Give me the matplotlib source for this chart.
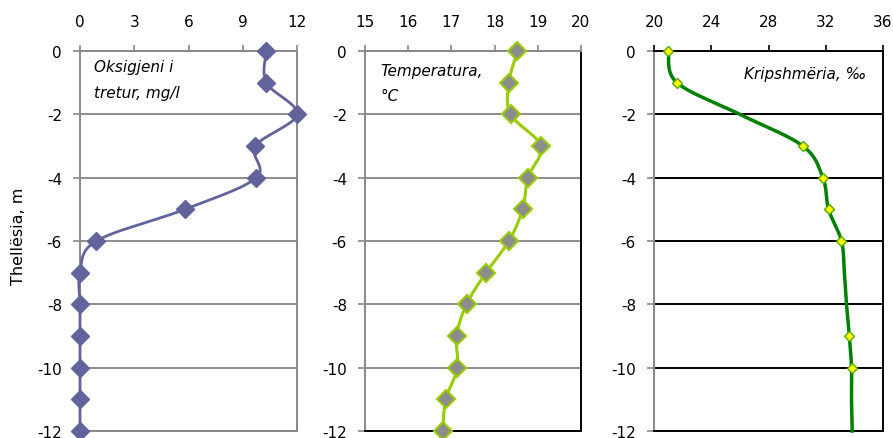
import numpy as np
import matplotlib
matplotlib.use("Agg")
import matplotlib.pyplot as plt

plt.rcParams['font.family'] = ['DejaVu Sans']
plt.rcParams['axes.unicode_minus'] = False

depth = [0, -1, -2, -3, -4, -5, -6, -7, -8, -9, -10, -11, -12]
oxygen = [10.3, 10.3, 12.0, 9.7, 9.75, 5.8, 0.9, 0, 0, 0, 0, 0, 0]
temperature = [18.53, 18.33, 18.37, 19.07, 18.77, 18.65, 18.33, 17.8, 17.35, 17.12, 17.14, 16.87, 16.8]
salinity = [21.0, 21.6, 26.0, 30.4, 31.8, 32.2, 33.1, 33.3, 33.45, 33.65, 33.8, 33.8, 33.85]
salinity_markers = [0, 1, 3, 4, 5, 6, 9, 10]

ox_ticks = [0, 3, 6, 9, 12]
temp_ticks = [15, 16, 17, 18, 19, 20]
sal_ticks = [20, 24, 28, 32, 36]
depth_ticks = [0, -2, -4, -6, -8, -10, -12]

fig = plt.figure(figsize=(8.93, 4.39), dpi=100)
H = 439.0
W = 893.0
top = 52
bottom = 432


def smooth(xs, ys, xlim, ax_w, n=24):
    # Catmull-Rom style Bezier smoothing (like spreadsheet smoothed lines), in pixel-ish space
    px = (np.array(xs) - xlim[0]) / (xlim[1] - xlim[0]) * ax_w
    py = np.array(ys) / 12.0 * (bottom - top)
    P = np.column_stack([px, py])
    out = [P[0]]
    m = len(P)
    for i in range(m - 1):
        p0 = P[i - 1] if i > 0 else P[i]
        p1 = P[i]
        p2 = P[i + 1]
        p3 = P[i + 2] if i + 2 < m else P[i + 1]
        c1 = p1 + (p2 - p0) / 6.0
        c2 = p2 - (p3 - p1) / 6.0
        t = np.linspace(0, 1, n)[1:, None]
        seg = ((1 - t) ** 3) * p1 + 3 * ((1 - t) ** 2) * t * c1 + 3 * (1 - t) * t ** 2 * c2 + t ** 3 * p2
        out.extend(seg)
    out = np.array(out)
    x = out[:, 0] / ax_w * (xlim[1] - xlim[0]) + xlim[0]
    y = out[:, 1] / (bottom - top) * 12.0
    return x, y


def make_ax(left_px, right_px, xlim, xticks, spine_colors, grid_color, tick_color_top):
    ax = fig.add_axes([left_px / W, 1 - bottom / H, (right_px - left_px) / W, (bottom - top) / H])
    ax.set_xlim(*xlim)
    ax.set_ylim(-12, 0)
    ax.set_xticks(xticks)
    ax.set_yticks(depth_ticks)
    ax.set_yticklabels([str(d) for d in depth_ticks])
    ax.xaxis.tick_top()
    ax.tick_params(axis='x', direction='out', length=4, pad=12, labelsize=11,
                   color=tick_color_top, width=1.2)
    ax.tick_params(axis='y', direction='out', length=5, pad=8, labelsize=11,
                   color='#888888', width=1.2)
    for k, c in spine_colors.items():
        ax.spines[k].set_color(c)
        ax.spines[k].set_linewidth(1.4)
    ax.grid(axis='y', color=grid_color, linewidth=1.4)
    ax.set_axisbelow(True)
    return ax


# Panel 1: Oxygen
ax1 = make_ax(80, 297, (0, 12), ox_ticks,
              {'left': '#888888', 'right': '#888888', 'top': '#888888', 'bottom': '#888888'},
              '#8c8c8c', '#888888')
sx, sy = smooth(oxygen, depth, (0, 12), 217)
ax1.plot(sx, sy, color='#62639b', lw=2.0, clip_on=False, zorder=3)
ax1.plot(oxygen, depth, ls='none', marker='D', ms=9, color='#62639b', clip_on=False, zorder=4)
ax1.text(0.065, 0.978, 'Oksigjeni i\ntretur, mg/l', transform=ax1.transAxes, style='italic',
         fontsize=11, va='top', ha='left', linespacing=1.85)

# Panel 2: Temperature
ax2 = make_ax(365, 581, (15, 20), temp_ticks,
              {'left': '#888888', 'right': '#000000', 'top': '#888888', 'bottom': '#000000'},
              '#8c8c8c', '#888888')
sx, sy = smooth(temperature, depth, (15, 20), 216)
ax2.plot(sx, sy, color='#99cc00', lw=2.2, clip_on=False, zorder=3)
ax2.plot(temperature, depth, ls='none', marker='D', ms=9, markerfacecolor='#8c8c8c',
         markeredgecolor='#99cc00', markeredgewidth=1.5, clip_on=False, zorder=4)
ax2.text(0.07, 0.968, 'Temperatura,\n°C', transform=ax2.transAxes, style='italic',
         fontsize=11, va='top', ha='left', linespacing=1.8)

# Panel 3: Salinity
ax3 = make_ax(654, 883, (20, 36), sal_ticks,
              {'left': '#888888', 'right': '#000000', 'top': '#000000', 'bottom': '#000000'},
              '#000000', '#000000')
sx, sy = smooth(salinity, depth, (20, 36), 229)
ax3.plot(sx, sy, color='#008000', lw=2.5, clip_on=False, zorder=3)
ax3.plot([salinity[i] for i in salinity_markers], [depth[i] for i in salinity_markers],
         ls='none', marker='D', ms=5.5, markerfacecolor='#ffff00', markeredgecolor='#55aa00',
         markeredgewidth=1.0, clip_on=False, zorder=4)
ax3.text(0.925, 0.96, 'Kripshmëria, ‰', transform=ax3.transAxes, style='italic',
         fontsize=11, va='top', ha='right')

fig.text(19 / W, 1 - 236 / H, 'Thellësia, m', rotation=90, ha='center', va='center', fontsize=11.5)

fig.savefig('out.png', dpi=100)
